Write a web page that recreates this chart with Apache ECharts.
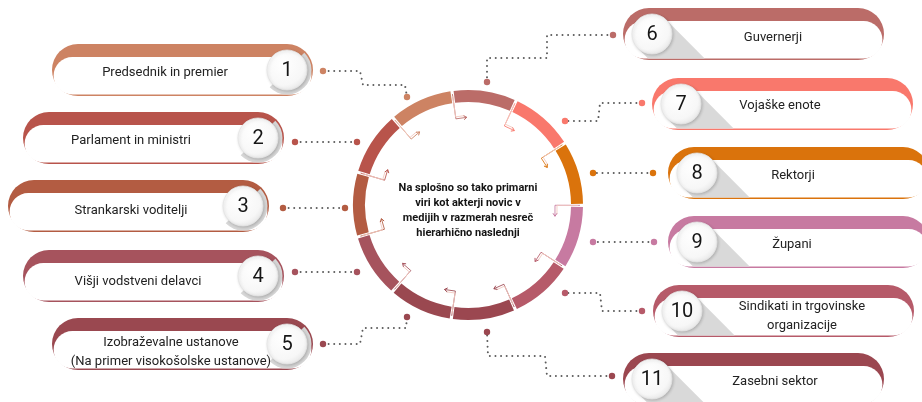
<!DOCTYPE html>
<html><head><meta charset="utf-8">
<script src="https://cdn.jsdelivr.net/npm/echarts@6/dist/echarts.min.js"></script>
<style>html,body{margin:0;padding:0;background:#fff}#c{width:922px;height:402px}</style>
</head><body><div id="c"></div>
<script>
// ---------- data ----------
const numbers = ['1','2','3','4','5','6','7','8','9','10','11'];
const labels = [
  ['Predsednik in premier'],
  ['Parlament in ministri'],
  ['Strankarski voditelji'],
  ['Višji vodstveni delavci'],
  ['Izobraževalne ustanove','(Na primer visokošolske ustanove)'],
  ['Guvernerji'],
  ['Vojaške enote'],
  ['Rektorji'],
  ['Župani'],
  ['Sindikati in trgovinske','organizacije'],
  ['Zasebni sektor']
];
const centerText = ['Na splošno so tako primarni','viri kot akterji novic v','medijih v razmerah nesreč','hierarhično naslednji'];
const ringOrder = [6,7,8,9,10,11,5,4,3,2,1];   // clockwise from the top
const ringShare = [1,1,1,1,1,1,1,1,1,1,1];

// ---------- styles / layout ----------
const colors = ['#cd8363','#b8544b','#b35c42','#a6535d','#9a4850','#bb6c68','#f9786c','#da730c','#c77aa1','#b65a69','#9b4750'];
const cards = [
  {x:52, y:44, w:261, side:'L', tx:165, ty:[73]},
  {x:23, y:112, w:261, side:'L', tx:131, ty:[141]},
  {x:8, y:180, w:261, side:'L', tx:131, ty:[211]},
  {x:23, y:250, w:261, side:'L', tx:138, ty:[282]},
  {x:52, y:318, w:261, side:'L', tx:171, ty:[343,362]},
  {x:623, y:8, w:261, side:'R', tx:773, ty:[38]},
  {x:652, y:78, w:261, side:'R', tx:780, ty:[106]},
  {x:668, y:147, w:261, side:'R', tx:793, ty:[176]},
  {x:668, y:216, w:261, side:'R', tx:792, ty:[245]},
  {x:653, y:285, w:261, side:'R', tx:802, ty:[307,326]},
  {x:623, y:353, w:261, side:'R', tx:775, ty:[382]}
];
const links = [
  [[323,71],[360,71],[363,85],[405,85],[407,97]],
  [[295,142],[357,142]],
  [[283,208],[345,208]],
  [[295,272],[357,272]],
  [[323,344],[360,344],[363,328],[406,328],[407,317]],
  [[613,35],[547,35],[547,58],[487,58],[487,82]],
  [[642,103],[600,103],[598,121],[565,121]],
  [[653,173],[593,173]],
  [[654,242],[593,242]],
  [[642,311],[602,311],[600,293],[565,293]],
  [[612,376],[547,376],[545,356],[488,356],[487,332]]
];
const CX = 468, CY = 205, R0 = 103, R1 = 115, START = 98;
const FONT = 'Roboto, "Noto Sans", sans-serif';

const els = [];
const H = 52;
cards.forEach((c, i) => {
  const col = colors[i];
  els.push({type:'rect', z:1, shape:{x:c.x, y:c.y, width:c.w, height:H, r:H/2}, style:{fill:col}});
  const bh = H - 14.5;
  els.push({type:'rect', z:2, shape:{x:c.x+1.6, y:c.y+13, width:c.w-3.2, height:bh, r:bh/2}, style:{fill:'#fff'}});
  const cx = c.side === 'L' ? c.x + c.w - 26 : c.x + 29;
  const cy = c.y + 26, r = 20;
  if (c.side === 'L') {
    els.push({type:'sector', z:3, shape:{cx, cy, r0:r-1, r:24.5, startAngle:-Math.PI/4, endAngle:3*Math.PI/4, clockwise:true}, style:{fill:'#d6d6d6'}});
  } else {
    const k = r*Math.SQRT1_2, by = c.y + H - 1.6;
    const A = [cx+k, cy-k], B = [cx-k, cy+k];
    els.push({type:'polygon', z:3, shape:{points:[A,[A[0]+(by-A[1]),by],[B[0]+(by-B[1]),by],B]}, style:{fill:'#d9d9d9'}});
  }
  els.push({type:'circle', z:4, shape:{cx, cy, r}, style:{
    fill:{type:'radial', x:0.4, y:0.35, r:0.75, colorStops:[{offset:0,color:'#ffffff'},{offset:0.7,color:'#f7f7f7'},{offset:1,color:'#e2e2e2'}]},
    stroke:'#e4e4e4', lineWidth:0.8, shadowBlur:3, shadowColor:'rgba(0,0,0,0.18)', shadowOffsetX:1, shadowOffsetY:1}});
  els.push({type:'text', z:5, style:{text:numbers[i], x:cx, y:cy+1, textAlign:'center', textVerticalAlign:'middle', fontSize:20, fontFamily:FONT, fill:'#161616'}});
  labels[i].forEach((t, j) => {
    els.push({type:'text', z:5, style:{text:t, x:c.tx, y:c.ty[j], textAlign:'center', textVerticalAlign:'middle', fontSize:13, fontFamily:FONT, fill:'#222'}});
  });
  // connector
  const pts = links[i];
  els.push({type:'polyline', z:1, shape:{points:pts}, style:{stroke:'#5c5c5c', lineWidth:2, lineDash:[0.01,5.6], lineCap:'round', fill:null}});
  [pts[0], pts[pts.length-1]].forEach(p => els.push({type:'circle', z:2, shape:{cx:p[0], cy:p[1], r:3.2}, style:{fill:col}}));
});
// center text
centerText.forEach((t, j) => {
  els.push({type:'text', z:5, style:{text:t, x:CX, y:188 + j*15, textAlign:'center', textVerticalAlign:'middle', fontSize:11, fontWeight:'bold', fontFamily:FONT, fill:'#141414'}});
});
// bracket decorations at every boundary between ring segments
const segA = 360 / ringShare.length;
for (let k = 0; k < ringShare.length; k++) {
  const th = (90 - START + k*segA) * Math.PI/180;
  const s = Math.sin(th), co = Math.cos(th);
  const P = rr => [CX + rr*s, CY - rr*co];
  const p1 = P(112), p2 = P(87);
  const p3 = [p2[0] + 11*co, p2[1] + 11*s];
  const nxt = colors[ringOrder[k]-1];
  els.push({type:'polyline', z:3, shape:{points:[p1,p2,p3]}, style:{stroke:nxt, lineWidth:1, opacity:0.85, fill:null}});
  const q1 = P(110), q2 = P(89);
  const q3 = [q2[0] + 9*co, q2[1] + 9*s];
  els.push({type:'polyline', z:3, shape:{points:[q1,q2,q3]}, style:{stroke:'#f2c9c0', lineWidth:1, opacity:0.9, fill:null}});
  // arrow head
  const ax = [p3[0] - 3*co - 2*(-s), p3[1] - 3*s - 2*co];
  const bx = [p3[0] - 3*co + 2*(-s), p3[1] - 3*s + 2*co];
  els.push({type:'polyline', z:3, shape:{points:[ax,p3,bx]}, style:{stroke:nxt, lineWidth:1, fill:null}});
}

const chart = echarts.init(document.getElementById('c'));
chart.setOption({
  animation:false,
  backgroundColor:'#fff',
  series:[{
    type:'pie', silent:true, center:[CX,CY], radius:[R0,R1], startAngle:START, padAngle:1.6,
    label:{show:false}, labelLine:{show:false},
    data: ringOrder.map((n,i) => ({value:ringShare[i], name:numbers[n-1], itemStyle:{color:colors[n-1]}}))
  }],
  graphic:{elements:els}
});
</script></body></html>
